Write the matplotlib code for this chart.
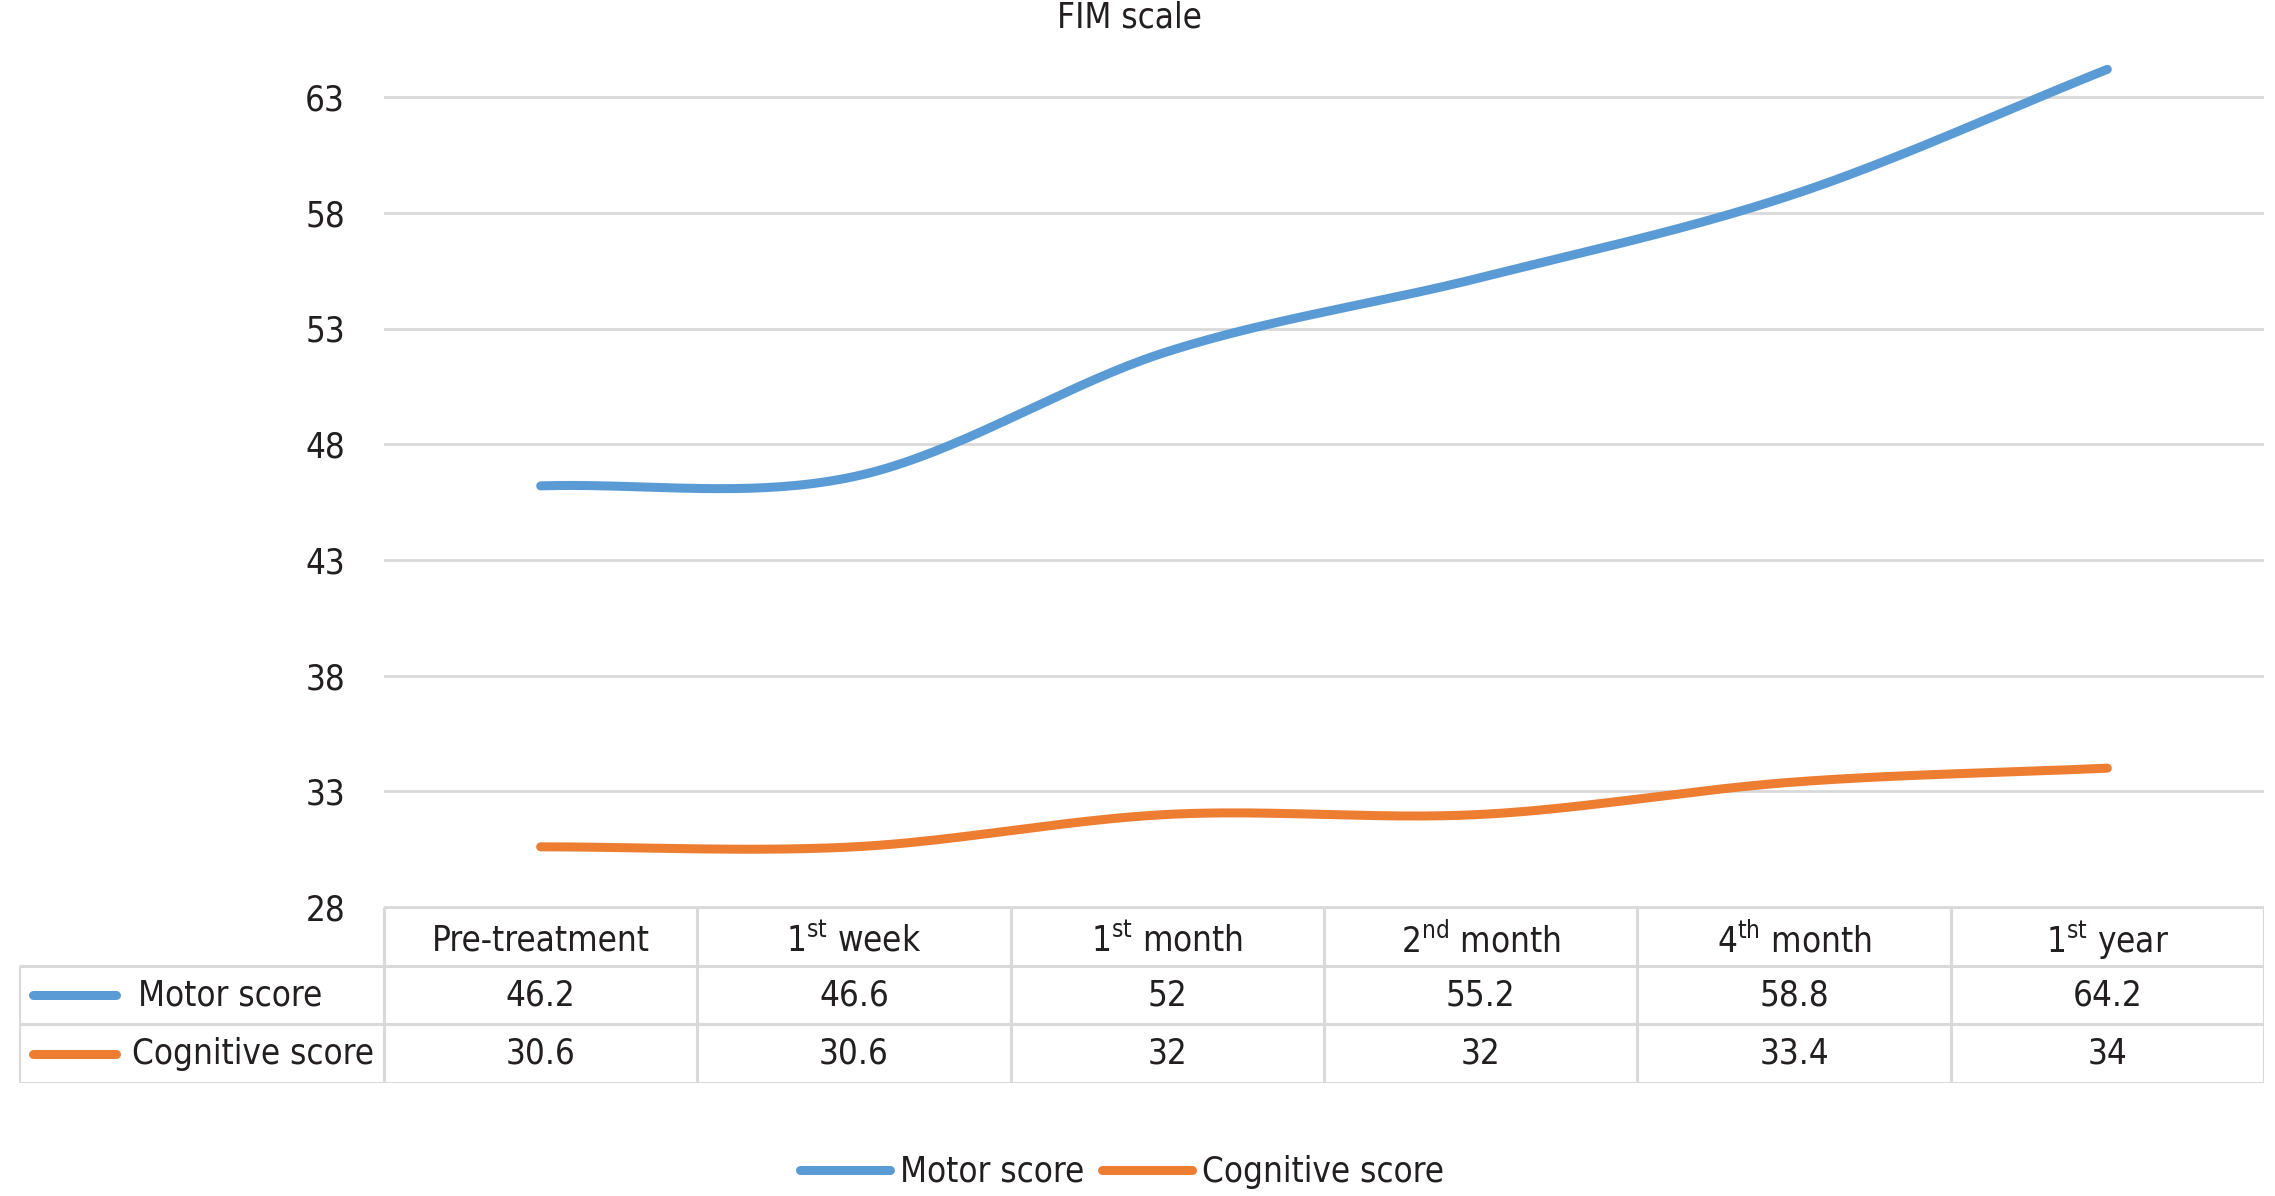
import numpy as np
import matplotlib
matplotlib.use("Agg")
import matplotlib.pyplot as plt
from matplotlib.lines import Line2D

plt.rcParams['font.family'] = ['DejaVu Sans']
plt.rcParams['font.stretch'] = 'condensed'
plt.rcParams['mathtext.fontset'] = 'custom'
plt.rcParams['mathtext.rm'] = 'DejaVu Sans:stretch=condensed'

# data
periods = [r"Pre-treatment", r"$\mathregular{1^{st}}$ week", r"$\mathregular{1^{st}}$ month",
           r"$\mathregular{2^{nd}}$ month", r"$\mathregular{4^{th}}$ month", r"$\mathregular{1^{st}}$ year"]
motor = [46.2, 46.6, 52, 55.2, 58.8, 64.2]
cognitive = [30.6, 30.6, 32, 32, 33.4, 34]
series_names = ["Motor score", "Cognitive score"]
colors = ["#5B9BD5", "#ED7D31"]
yticks = [28, 33, 38, 43, 48, 53, 58, 63]

FS = 25
TXT = "#231F20"
GRID = "#D9D9D9"
LW = 6.5


def smooth(x, y, n=40):
    # catmull-rom smoothing, like the office "smoothed line"
    x = np.asarray(x, float)
    y = np.asarray(y, float)
    px = np.concatenate([[2 * x[0] - x[1]], x, [2 * x[-1] - x[-2]]])
    py = np.concatenate([[2 * y[0] - y[1]], y, [2 * y[-1] - y[-2]]])
    xs, ys = [], []
    t = np.linspace(0, 1, n)
    for i in range(1, len(px) - 2):
        for src, out in ((py, ys), (px, xs)):
            p0, p1, p2, p3 = src[i - 1], src[i], src[i + 1], src[i + 2]
            out.append(0.5 * ((2 * p1) + (-p0 + p2) * t + (2 * p0 - 5 * p1 + 4 * p2 - p3) * t ** 2
                              + (-p0 + 3 * p1 - 3 * p2 + p3) * t ** 3))
    return np.concatenate(xs), np.concatenate(ys)


W, H = 2275, 1196
fig = plt.figure(figsize=(W / 100, H / 100), dpi=100)

ax_left, ax_right = 384 / W, 2264 / W
ax_bot = 1 - 907 / H
ax_top = 1 - 40 / H
ax = fig.add_axes([ax_left, ax_bot, ax_right - ax_left, ax_top - ax_bot])

x = np.arange(len(periods))
for vals, c in zip([motor, cognitive], colors):
    sx, sy = smooth(x, vals)
    ax.plot(sx, sy, color=c, lw=LW, solid_capstyle='round')

ax.set_xlim(-0.5, len(periods) - 0.5)
ax.set_ylim(28, 28 + 867 / 23.14)
ax.set_yticks(yticks)
ax.set_yticklabels([str(v) for v in yticks], fontsize=FS, color=TXT)
ax.set_xticks([])
ax.tick_params(axis='y', length=0, pad=28)
for s in ax.spines.values():
    s.set_visible(False)
ax.grid(axis='y', color=GRID, lw=2)
ax.set_axisbelow(True)

fig.text(1129 / W, 1 - 18 / H, "FIM scale", ha='center', va='center', fontsize=FS, color=TXT)

# data table under the plot
tab_left = 19 / W
tab_top = 1 - 907 / H
tab_bot = 1 - 1083 / H
tax = fig.add_axes([tab_left, tab_bot, ax_right - tab_left, tab_top - tab_bot])
label_w = (384 - 19) / ((2264 - 384) / len(periods))
x0 = -0.5 - label_w
tax.set_xlim(x0, len(periods) - 0.5)
tax.set_ylim(0, 3)
tax.axis('off')

lc = dict(color=GRID, lw=2.2, solid_capstyle='butt')
tax.plot([-0.5, len(periods) - 0.5], [3, 3], **lc)
for yy in [0, 1, 2]:
    tax.plot([x0, len(periods) - 0.5], [yy, yy], **lc)
tax.plot([x0, x0], [0, 2], **lc)
for xx in np.arange(len(periods) + 1) - 0.5:
    tax.plot([xx, xx], [0, 3], **lc)

for i, p in enumerate(periods):
    tax.text(i, 2.43, p, ha='center', va='center', fontsize=FS, color=TXT)
for r, (vals, name, c) in enumerate(zip([motor, cognitive], series_names, colors)):
    yy = 1.5 - r
    for i, v in enumerate(vals):
        tax.text(i, yy, f"{v:g}", ha='center', va='center', fontsize=FS, color=TXT)
    tax.plot([x0 + 0.045, x0 + 0.31], [yy, yy], color=c, lw=LW, solid_capstyle='round')
    tax.text(x0 + 0.38 - 0.02 * r, yy, name, ha='left', va='center', fontsize=FS, color=TXT)

handles = [Line2D([0], [0], color=c, lw=LW, solid_capstyle='round') for c in colors]
fig.legend(handles, series_names, loc='center', bbox_to_anchor=(1122 / W, 1 - 1172 / H),
           ncol=2, frameon=False, fontsize=FS, handlelength=2.6, handletextpad=0.3,
           columnspacing=0.5, labelcolor=TXT)

fig.savefig("out.png", dpi=100, facecolor='white')
